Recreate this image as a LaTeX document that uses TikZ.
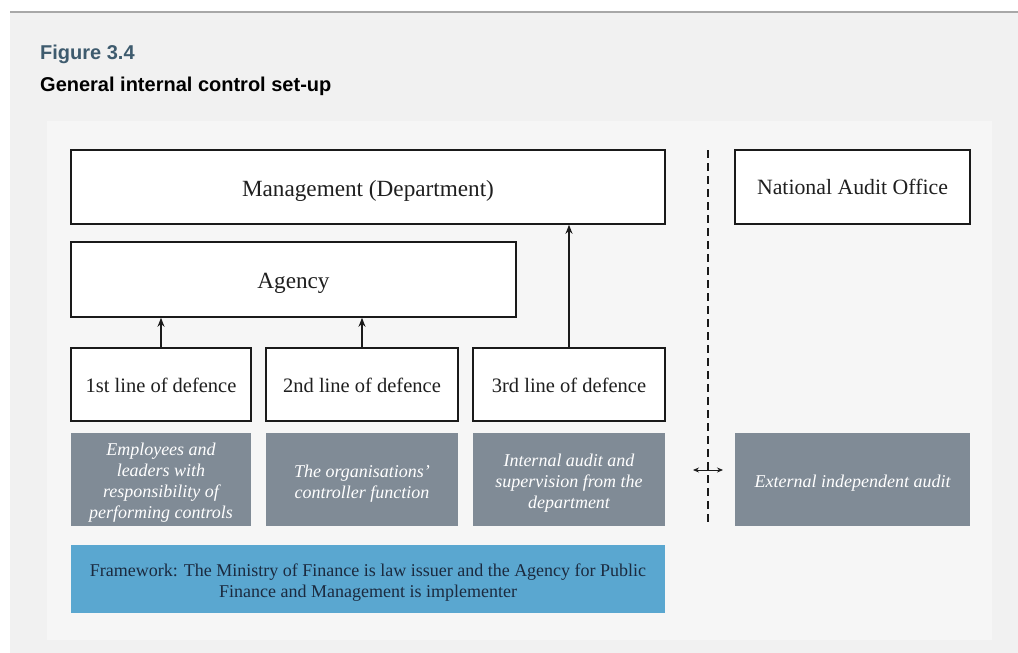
\documentclass[tikz,border=0pt]{standalone}
\usepackage{fontspec}
\setmainfont{Liberation Serif}
\newfontfamily\titlefont{Liberation Sans}
\usetikzlibrary{arrows.meta}
\definecolor{outerbg}{HTML}{F1F1F1}
\definecolor{innerbg}{HTML}{F6F6F6}
\definecolor{topline}{HTML}{A8A8A8}
\definecolor{figteal}{HTML}{3E5B6E}
\definecolor{grayfill}{HTML}{808B96}
\definecolor{bluefill}{HTML}{5AA7D0}
\definecolor{navytext}{HTML}{1B2A3F}
\definecolor{boxline}{HTML}{1A1A1A}
\newcommand{\lwr}[2]{\raisebox{-#1}[\height][\depth]{\begin{tabular}{@{}c@{}}#2\end{tabular}}}
\tikzset{
  whitebox/.style={draw=boxline, line width=1.6pt, fill=white, minimum width=#1, inner sep=0pt, text=black!88},
  bigtext/.style={font=\fontsize{23.2}{27}\selectfont},
  naotext/.style={font=\fontsize{21.8}{26}\selectfont},
  linetext/.style={font=\fontsize{20.5}{24}\selectfont},
  graybox/.style={fill=grayfill, minimum width=#1, minimum height=93pt, inner sep=0pt, text=white, font=\fontsize{18}{21}\selectfont\itshape},
  uparrow/.style={-{Stealth[length=9pt,width=7pt]}, line width=1.8pt, draw=boxline},
  titletext/.style={anchor=base west, inner sep=0pt, font=\titlefont\bfseries\fontsize{20}{23}\selectfont},
}
\begin{document}
\begin{tikzpicture}[x=1pt,y=-1pt]
\useasboundingbox (0,0) rectangle (1018,653);
\fill[white] (0,0) rectangle (1018,653);
\fill[outerbg] (10,12) rectangle (1018,653);
\draw[topline, line width=1.2pt] (10,12) -- (1018,12);
\fill[innerbg] (47,121) rectangle (992,640);

\node[titletext, text=figteal] (figno) at (40,59) {Figure 3.4};
\node[titletext, text=black] (figtitle) at (40,91) {General internal control set-up};

\node[whitebox=594pt, minimum height=74pt, bigtext] (mgmt) at (368,187) {\lwr{4pt}{Management (Department)}};
\node[whitebox=235pt, minimum height=74pt, naotext] (nao) at (852.5,187) {\lwr{2pt}{National Audit Office}};
\node[whitebox=445pt, minimum height=75pt, bigtext] (agency) at (293.5,279.5) {\lwr{4pt}{Agency}};
\node[whitebox=180pt, minimum height=73pt, linetext] (l1) at (161,384.5) {\lwr{3pt}{1st line of defence}};
\node[whitebox=192pt, minimum height=73pt, linetext] (l2) at (362,384.5) {\lwr{3pt}{2nd line of defence}};
\node[whitebox=192pt, minimum height=73pt, linetext] (l3) at (569,384.5) {\lwr{3pt}{3rd line of defence}};

\node[graybox=180pt] (g1) at (161,479.5) {\lwr{3.5pt}{Employees and\\leaders with\\responsibility of\\performing controls}};
\node[graybox=192pt] (g2) at (362,479.5) {\lwr{4pt}{The organisations'\\controller function}};
\node[graybox=192pt] (g3) at (569,479.5) {\lwr{4pt}{Internal audit and\\supervision from the\\department}};
\node[graybox=235pt] (g4) at (852.5,479.5) {\lwr{4pt}{External independent audit}};

\node[fill=bluefill, minimum width=594pt, minimum height=68pt, inner sep=0pt, text=navytext, font=\fontsize{18}{21}\selectfont] (frame) at (368,579) {\lwr{4pt}{Framework: The Ministry of Finance is law issuer and the Agency for Public\\Finance and Management is implementer}};

\draw[uparrow] (l1.north) -- (l1.north |- agency.south);
\draw[uparrow] (l2.north) -- (l2.north |- agency.south);
\draw[uparrow] (l3.north) -- (l3.north |- mgmt.south);

\coordinate (dtop) at (708,150);
\coordinate (dbot) at (708,526);
\draw[boxline, line width=1.6pt, dash pattern=on 8pt off 5pt] (dtop) -- (dbot);
\coordinate (aleft) at (693,470);
\coordinate (aright) at (723,470);
\draw[{Stealth[length=6pt,width=5pt]}-{Stealth[length=6pt,width=5pt]}, line width=0.8pt, boxline] (aleft) -- (aright);
\end{tikzpicture}
\end{document}
